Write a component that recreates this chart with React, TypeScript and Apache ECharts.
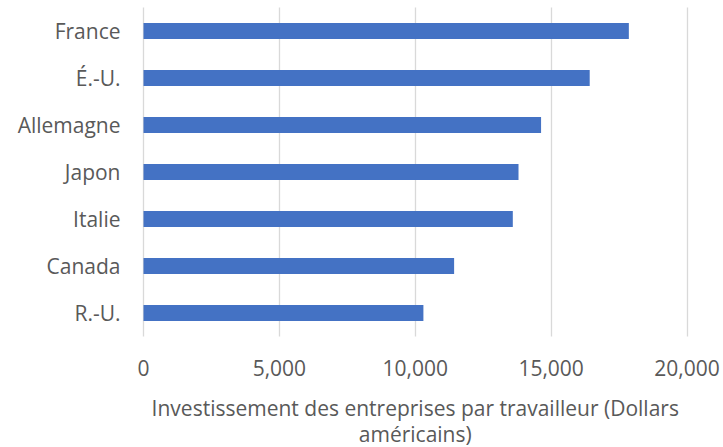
import React, { useEffect, useRef } from "react";
import * as echarts from "echarts";

const categories = ["R.-U.", "Canada", "Italie", "Japon", "Allemagne", "É.-U.", "France"];
const values = [10300, 11430, 13590, 13800, 14630, 16420, 17860];
const axisTitle = "Investissement des entreprises par travailleur (Dollars\naméricains)";

export default function App() {
  const ref = useRef<HTMLDivElement>(null);
  useEffect(() => {
    const chart = echarts.init(ref.current!, null, { renderer: "svg" });
    const font = "'Open Sans', sans-serif";
    chart.setOption({
      animation: false,
      grid: {
        left: 143.5,
        right: 36,
        top: 7.5,
        bottom: 110.5,
        outerBoundsMode: "none",
        containLabel: false,
      },
      xAxis: {
        type: "value",
        min: 0,
        max: 20000,
        interval: 5000,
        axisLine: { show: false },
        axisTick: { show: false },
        splitLine: { show: true, lineStyle: { color: "#d9d9d9", width: 1.3 } },
        axisLabel: {
          color: "#595959",
          fontFamily: font,
          fontSize: 21,
          margin: 21,
          formatter: (v: number) => v.toLocaleString("en-US"),
        },
        name: axisTitle,
        nameLocation: "middle",
        nameGap: 58,
        nameTextStyle: {
          color: "#595959",
          fontFamily: font,
          fontSize: 21,
          lineHeight: 26,
          align: "center",
          verticalAlign: "top",
        },
      },
      yAxis: {
        type: "category",
        data: categories,
        axisLine: { show: false },
        axisTick: { show: false },
        axisLabel: {
          color: "#595959",
          fontFamily: font,
          fontSize: 21,
          margin: 23,
        },
      },
      series: [
        {
          type: "bar",
          data: values,
          barWidth: 16,
          itemStyle: { color: "#4472C4" },
        },
      ],
    });
    return () => chart.dispose();
  }, []);
  return (
    <div
      ref={ref}
      style={{ position: "absolute", left: 0, top: 0, width: 723, height: 447 }}
    />
  );
}
